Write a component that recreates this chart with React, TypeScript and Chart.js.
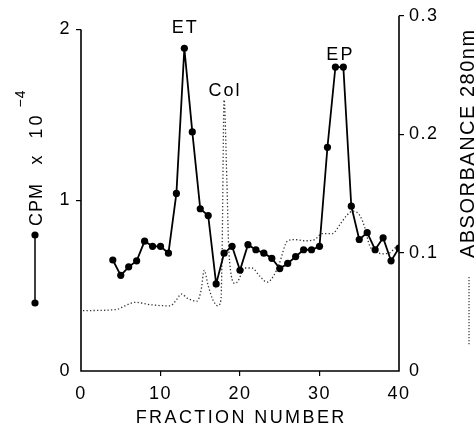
import React, { useEffect, useRef } from 'react';
import { Chart, registerables } from 'chart.js';

Chart.register(...registerables);

// ---- data ----
const fractions = [4, 5, 6, 7, 8, 9, 10, 11, 12, 13, 14, 15, 16, 17, 18, 19, 20, 21, 22, 23, 24, 25, 26, 27, 28, 29, 30, 31, 32, 33, 34, 35, 36, 37, 38, 39, 40];
const cpm = [0.65, 0.56, 0.61, 0.645, 0.76, 0.73, 0.73, 0.69, 1.04, 1.89, 1.4, 0.95, 0.91, 0.51, 0.69, 0.73, 0.59, 0.74, 0.71, 0.69, 0.66, 0.6, 0.63, 0.67, 0.71, 0.71, 0.73, 1.31, 1.78, 1.78, 0.965, 0.77, 0.81, 0.71, 0.78, 0.645, 0.72];

const absFractions = [0.25, 4.5, 5.5, 6.8, 8.7, 11.2, 12.0, 12.6, 13.5, 14.6, 15.1, 15.5, 16.0, 16.6, 17.2, 17.6, 17.75, 18.0, 18.35, 18.6, 19.4, 19.75, 20.6, 21.5, 22.5, 23.4, 24.2, 24.9, 26.0, 26.9, 28.2, 29.4, 30.3, 31.6, 32.6, 33.5, 34.2, 35.1, 35.7, 36.3, 37.0, 38.0, 38.9, 39.5, 40.0];
const absorbance = [0.051, 0.052, 0.055, 0.058, 0.056, 0.055, 0.06, 0.065, 0.061, 0.059, 0.068, 0.085, 0.072, 0.06, 0.055, 0.06, 0.101, 0.229, 0.16, 0.101, 0.074, 0.076, 0.087, 0.087, 0.08, 0.075, 0.08, 0.09, 0.11, 0.111, 0.11, 0.111, 0.116, 0.116, 0.124, 0.132, 0.135, 0.131, 0.121, 0.106, 0.101, 0.099, 0.1, 0.104, 0.105];

const fractionTicks = [0, 10, 20, 30, 40];
const cpmTicks = [0, 1, 2];
const absTicks = [0, 0.1, 0.2, 0.3];

const peakLabels = ['ET', 'Col', 'EP'];
const peakFractions = [13, 18, 32.5];
const peakCpm = [1.98, 1.61, 1.82];

const FONT = '"Liberation Sans", Arial, Helvetica, sans-serif';

function drawText(
  ctx: CanvasRenderingContext2D,
  text: string,
  x: number,
  y: number,
  size: number,
  spacing: number,
  rot = 0,
  align: CanvasTextAlign = 'center'
) {
  ctx.save();
  ctx.translate(x, y);
  ctx.rotate(rot);
  ctx.font = `${size}px ${FONT}`;
  (ctx as any).letterSpacing = `${spacing}px`;
  ctx.textAlign = align;
  ctx.textBaseline = 'alphabetic';
  ctx.fillStyle = '#000';
  ctx.fillText(text, align === 'center' ? spacing / 2 : 0, 0);
  ctx.restore();
}

const overlay = {
  id: 'overlay',
  beforeDraw(chart: any) {
    (chart.ctx as any).letterSpacing = '1.5px';
  },
  afterDraw(chart: any) {
    const { ctx, chartArea: a, scales } = chart;
    const xs = scales.x;
    const yl = scales.y;
    const yr = scales.y1;
    ctx.save();
    (ctx as any).letterSpacing = '0px';
    ctx.strokeStyle = '#000';
    ctx.lineWidth = 1.6;
    ctx.setLineDash([]);
    ctx.beginPath();
    ctx.moveTo(a.left, yl.getPixelForValue(cpmTicks[cpmTicks.length - 1]));
    ctx.lineTo(a.left, a.bottom);
    ctx.lineTo(a.right, a.bottom);
    ctx.lineTo(a.right, yr.getPixelForValue(absTicks[absTicks.length - 1]));
    ctx.stroke();

    // legend symbol: solid line with dots (left)
    ctx.lineWidth = 1.5;
    ctx.beginPath();
    ctx.moveTo(35, 235);
    ctx.lineTo(35, 303);
    ctx.stroke();
    ctx.fillStyle = '#000';
    [235, 303].forEach((yy) => {
      ctx.beginPath();
      ctx.arc(35, yy, 3.6, 0, Math.PI * 2);
      ctx.fill();
    });

    // legend symbol: dotted line (right)
    ctx.strokeStyle = '#333';
    ctx.lineWidth = 1.2;
    ctx.setLineDash([1.2, 1.8]);
    ctx.beginPath();
    ctx.moveTo(469, 277);
    ctx.lineTo(469, 345);
    ctx.stroke();
    ctx.restore();

    // axis titles
    drawText(ctx, 'FRACTION NUMBER', (a.left + a.right) / 2, 423, 18, 2.4);
    drawText(ctx, 'ABSORBANCE 280nm', 474, 144, 20, 1.5, -Math.PI / 2);
    drawText(ctx, 'CPM', 42, 205, 18, 1, -Math.PI / 2);
    drawText(ctx, 'x', 42, 160, 18, 0, -Math.PI / 2);
    drawText(ctx, '10', 42, 127, 18, 3, -Math.PI / 2);
    drawText(ctx, '\u22124', 25, 99, 14, 1, -Math.PI / 2);

    // peak labels
    peakLabels.forEach((t, i) => {
      drawText(ctx, t, xs.getPixelForValue(peakFractions[i]), yl.getPixelForValue(peakCpm[i]), 18, 2);
    });
  },
};

export default function App() {
  const ref = useRef<HTMLCanvasElement | null>(null);

  useEffect(() => {
    if (!ref.current) return;
    const chart = new Chart(ref.current, {
      type: 'line',
      data: {
        datasets: [
          {
            label: 'CPM',
            data: fractions.map((f, i) => ({ x: f, y: cpm[i] })),
            yAxisID: 'y',
            borderColor: '#000',
            backgroundColor: '#000',
            borderWidth: 1.8,
            pointRadius: 3.6,
            pointBorderWidth: 0,
            pointBackgroundColor: '#000',
            tension: 0,
            order: 1,
          },
          {
            label: 'Absorbance',
            data: absFractions.map((f, i) => ({ x: f, y: absorbance[i] })),
            yAxisID: 'y1',
            borderColor: '#333',
            borderWidth: 1.3,
            borderDash: [1.3, 2.2],
            pointRadius: 0,
            cubicInterpolationMode: 'monotone',
            order: 2,
          },
        ],
      },
      options: {
        animation: false,
        responsive: false,
        layout: { padding: { top: 13, left: 0, right: 0, bottom: 0 } },
        plugins: { legend: { display: false }, tooltip: { enabled: false } },
        scales: {
          x: {
            type: 'linear',
            position: 'bottom',
            min: 0,
            max: 40,
            afterBuildTicks: (s: any) => {
              s.ticks = fractionTicks.map((v) => ({ value: v }));
            },
            afterFit: (s: any) => {
              s.height = 55;
            },
            border: { display: false },
            grid: {
              drawOnChartArea: false,
              drawTicks: true,
              tickLength: 5,
              lineWidth: 1.2,
              color: (c: any) => (c.tick && (c.tick.value === 0 || c.tick.value === 40) ? 'rgba(0,0,0,0)' : '#000'),
            },
            ticks: { color: '#000', font: { family: FONT, size: 18 }, padding: 7, maxRotation: 0 },
          },
          y: {
            type: 'linear',
            position: 'left',
            min: 0,
            max: 2.08,
            afterBuildTicks: (s: any) => {
              s.ticks = cpmTicks.map((v) => ({ value: v }));
            },
            afterFit: (s: any) => {
              s.width = 81;
            },
            border: { display: false },
            grid: {
              drawOnChartArea: false,
              drawTicks: true,
              tickLength: 5,
              lineWidth: 1.2,
              color: (c: any) => (c.tick && c.tick.value === 0 ? 'rgba(0,0,0,0)' : '#000'),
            },
            ticks: { color: '#000', font: { family: FONT, size: 18 }, padding: 5 },
          },
          y1: {
            type: 'linear',
            position: 'right',
            min: 0,
            max: 0.3,
            afterBuildTicks: (s: any) => {
              s.ticks = absTicks.map((v) => ({ value: v }));
            },
            afterFit: (s: any) => {
              s.width = 77;
            },
            border: { display: false },
            grid: {
              drawOnChartArea: false,
              drawTicks: true,
              tickLength: 5,
              lineWidth: 1.2,
              color: (c: any) => (c.tick && c.tick.value === 0 ? 'rgba(0,0,0,0)' : '#000'),
            },
            ticks: {
              color: '#000',
              font: { family: FONT, size: 18 },
              padding: 5,
              callback: (v: any) => (Number(v) === 0 ? '0' : Number(v).toFixed(1)),
            },
          },
        },
      },
      plugins: [overlay],
    } as any);
    return () => chart.destroy();
  }, []);

  return (
    <div style={{ position: 'fixed', left: 0, top: 0, width: 476, height: 426, background: '#fff' }}>
      <canvas ref={ref} width={476} height={426} style={{ display: 'block', width: 476, height: 426 }} />
    </div>
  );
}
